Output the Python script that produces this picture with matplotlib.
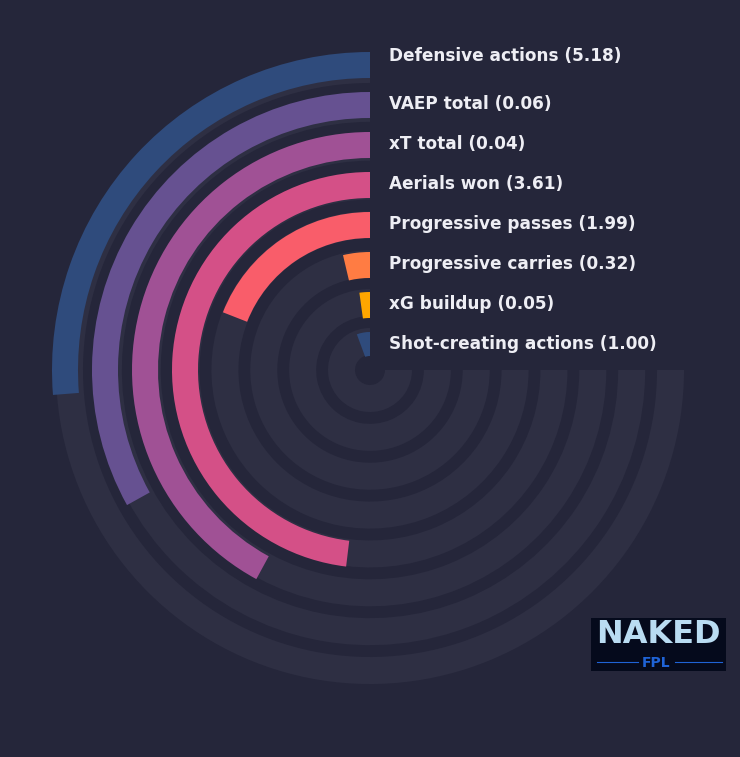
import numpy as np
import matplotlib
matplotlib.use("Agg")
import matplotlib.pyplot as plt
import matplotlib.transforms as mtransforms
from matplotlib.patches import Rectangle
from matplotlib.lines import Line2D

# ---- data (outermost ring first) ----
metrics = ["Defensive actions", "VAEP total", "xT total", "Aerials won",
           "Progressive passes", "Progressive carries", "xG buildup",
           "Shot-creating actions"]
values = [5.18, 0.06, 0.04, 3.61, 1.99, 0.32, 0.05, 1.00]
percentiles = [35.0, 44.1, 56.1, 64.1, 25.4, 4.9, 2.9, 7.5]
colors = ["#2f4b7c", "#665191", "#a05195", "#d45087", "#f95d6a",
          "#ff7c43", "#ffa600", "#2f4b7c"]

BG = "#25263a"
TRACK = "#2e2f43"
TEXT = "#eeeef4"

W, H = 740, 757
fig = plt.figure(figsize=(W / 100, H / 100), dpi=100, facecolor=BG)

cx, cy = 370, 757 - 370
R = 330
ax = fig.add_axes([(cx - R) / W, (cy - R) / H, 2 * R / W, 2 * R / H], projection="polar")
ax.set_facecolor("none")
ax.set_theta_zero_location("N")
ax.set_theta_direction(1)
ax.set_ylim(0, R)
ax.grid(False)
ax.set_xticks([])
ax.set_yticks([])
ax.spines["polar"].set_visible(False)

n = len(metrics)
max_span = 1.5 * np.pi
for i in range(n):
    k = n - 1 - i
    tb = 15 + 38.86 * k
    ax.bar(0, 27, width=max_span, bottom=tb, align="edge", color=TRACK,
           edgecolor="none", linewidth=0)

for i in range(n):
    k = n - 1 - i
    bb = 12 + 40 * k
    span = percentiles[i] / 100 * max_span
    ax.bar(0, 26, width=span, bottom=bb, align="edge", color=colors[i],
           edgecolor="none", linewidth=0)

# center hole
ax.bar(0, 14, width=2 * np.pi, bottom=0, color=BG, edgecolor="none")

off = mtransforms.offset_copy(ax.transData, fig=fig, x=19, y=0, units="dots")
for i in range(n):
    k = n - 1 - i
    r = 12 + 40 * k + 13 + 1
    if i == 0:
        r += 8
    ax.text(0, r, f"{metrics[i]} ({values[i]:.2f})", transform=off,
            ha="left", va="center", color=TEXT, fontsize=12.15,
            fontweight="bold", family="DejaVu Sans")

# ---- logo ----
def fx(x):
    return x / W

def fy(y):
    return (H - y) / H

fig.add_artist(Rectangle((fx(591), fy(671)), 135 / W, 53 / H,
                         transform=fig.transFigure, facecolor="#050a1c",
                         edgecolor="none"))
fig.text(fx(658.5), fy(643), "NAKED", color="#b9dcf2", fontsize=23,
         fontweight="bold", ha="center", va="baseline", family="DejaVu Sans")
fig.text(fx(656), fy(667), "FPL", color="#1f63d6", fontsize=10,
         fontweight="bold", ha="center", va="baseline", family="DejaVu Sans")
fig.add_artist(Line2D([fx(597), fx(638)], [fy(662), fy(662)],
                      transform=fig.transFigure, color="#1f63d6", lw=0.8))
fig.add_artist(Line2D([fx(675), fx(722)], [fy(662), fy(662)],
                      transform=fig.transFigure, color="#1f63d6", lw=0.8))

fig.savefig("out.png", dpi=100, facecolor=BG)
